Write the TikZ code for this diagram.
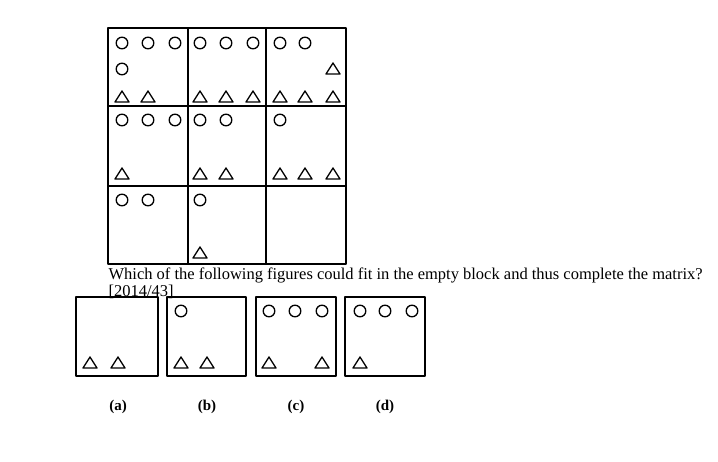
\documentclass[tikz,border=0pt]{standalone}
\usepackage{fontspec}
\setmainfont{Liberation Serif}
\newcommand{\ring}[2]{\draw (#1,#2) circle (5.8);}
\newcommand{\tri}[2]{\draw (#1-7,#2+5) -- (#1+7,#2+5) -- (#1,#2-6) -- cycle;}
\begin{document}
\begin{tikzpicture}[x=1pt,y=-1pt,line width=1.3pt,line join=round]
    \useasboundingbox (0,0) rectangle (718,461);
    \begin{scope}

    % matrix
    \draw (108,28) rectangle (346,264);
    \draw (188,28) -- (188,264);
    \draw (266,28) -- (266,264);
    \draw (108,106) -- (346,106);
    \draw (108,186) -- (346,186);

    % row 1
    \ring{122}{43} \ring{148}{43} \ring{175}{43} \ring{122}{69}
    \tri{122}{97} \tri{148}{97}
    \ring{200}{43} \ring{226}{43} \ring{253}{43}
    \tri{200}{97} \tri{226}{97} \tri{253}{97}
    \ring{280}{43} \ring{305}{43}
    \tri{333}{69}
    \tri{280}{97} \tri{305}{97} \tri{333}{97}

    % row 2
    \ring{122}{120} \ring{148}{120} \ring{175}{120}
    \tri{122}{174}
    \ring{200}{120} \ring{226}{120}
    \tri{200}{174} \tri{226}{174}
    \ring{280}{120}
    \tri{280}{174} \tri{305}{174} \tri{333}{174}

    % row 3
    \ring{122}{200} \ring{148}{200}
    \ring{200}{200}
    \tri{200}{253}

    \end{scope}

    \node (question) [anchor=north west,inner sep=0pt,text width=594pt,align=justify,
        font=\fontsize{16.5}{17}\selectfont] at (108,267)
        {Which of the following figures could fit in the empty block and thus complete the matrix?\linebreak\relax [2014/43]};

    \begin{scope}
    % options
    \draw (76,297) rectangle (158,376);
    \tri{90}{363} \tri{118}{363}
    \draw (167,297) rectangle (246,376);
    \ring{181}{311}
    \tri{181}{363} \tri{207}{363}
    \draw (256,297) rectangle (336,376);
    \ring{269}{311} \ring{295}{311} \ring{322}{311}
    \tri{269}{363} \tri{322}{363}
    \draw (345,297) rectangle (425,376);
    \ring{360}{311} \ring{385}{311} \ring{412}{311}
    \tri{360}{363}
    \end{scope}

    \begin{scope}[font=\fontsize{15}{17}\selectfont\bfseries]
    \node (la) at (118,407) {(a)};
    \node (lb) at (207,407) {(b)};
    \node (lc) at (296,407) {(c)};
    \node (ld) at (385,407) {(d)};
    \end{scope}
\end{tikzpicture}
\end{document}
